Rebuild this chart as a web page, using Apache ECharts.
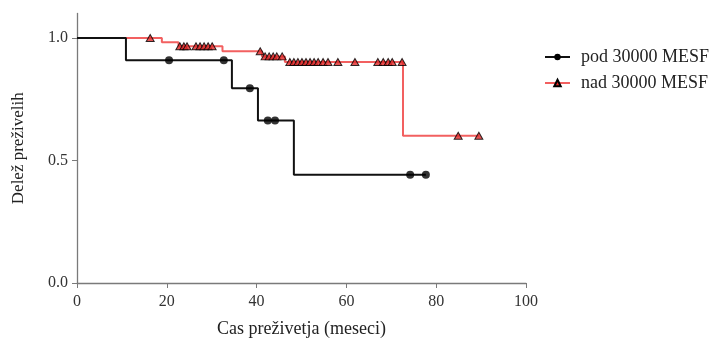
<!DOCTYPE html>
<html><head><meta charset="utf-8">
<script src="https://cdn.jsdelivr.net/npm/echarts@6/dist/echarts.min.js"></script>
<style>html,body{margin:0;padding:0;background:#fff}#c{width:718px;height:338px}</style>
</head><body><div id="c"></div>
<script>
// Kaplan-Meier step data (time in months, survival proportion)
const podTimes = [0, 10.9, 34.5, 40.3, 48.3, 77.7];
const podSurv  = [1.0, 0.909, 0.795, 0.663, 0.442, 0.442];
const podCensor = [20.5, 32.7, 38.5, 42.5, 44.1, 74.2, 77.7];

const nadTimes = [0, 18.9, 22.6, 32.4, 41.2, 46.3, 72.6, 89.5];
const nadSurv  = [1.0, 0.983, 0.966, 0.946, 0.925, 0.902, 0.601, 0.601];
const nadCensor = [16.3, 22.9, 23.8, 24.5, 26.5, 27.4, 28.3, 29.2, 30.1,
  40.8, 41.9, 42.8, 43.7, 44.5, 45.7, 47.4, 48.3, 49.2, 50.1, 51.0, 51.9,
  52.8, 53.7, 54.8, 55.9, 58.1, 61.9, 67.0, 68.2, 69.3, 70.2, 72.4, 84.9, 89.5];

const xTicks = [0, 20, 40, 60, 80, 100];
const yTicks = [0, 0.5, 1.0];
const seriesNames = ['pod 30000 MESF', 'nad 30000 MESF'];

function stepAt(times, surv, t) {
  let v = surv[0];
  for (let i = 0; i < times.length; i++) { if (times[i] <= t) v = surv[i]; }
  return v;
}
const pair = (xs, ys) => xs.map((x, i) => [x, ys[i]]);
const cens = (c, times, surv) => c.map(t => [t, stepAt(times, surv, t)]);

const font = 'Liberation Serif';
const axisCol = '#7a7a7a';
const chart = echarts.init(document.getElementById('c'));
chart.setOption({
  animation: false,
  grid: { left: 77, right: 192, top: 13.5, bottom: 55, containLabel: false, outerBoundsMode: 'none' },
  xAxis: {
    type: 'value', min: 0, max: 100, interval: 20,
    axisLine: { lineStyle: { color: axisCol, width: 1.3 } },
    axisTick: { show: true, length: 5, lineStyle: { color: axisCol } },
    splitLine: { show: false },
    axisLabel: { fontFamily: font, fontSize: 16, color: '#333', margin: 11 },
    name: 'Cas preživetja (meseci)', nameLocation: 'middle', nameGap: 37,
    nameTextStyle: { fontFamily: font, fontSize: 18, color: '#222' }
  },
  yAxis: {
    type: 'value', min: 0, max: 1.1,
    axisLine: { show: true, lineStyle: { color: axisCol, width: 1.3 } },
    axisTick: { show: true, length: 5, lineStyle: { color: axisCol }, customValues: yTicks },
    splitLine: { show: false },
    axisLabel: { fontFamily: font, fontSize: 16, color: '#333', margin: 9,
      customValues: yTicks, formatter: v => v.toFixed(1) },
    name: 'Delež preživelih', nameLocation: 'middle', nameGap: 50,
    nameTextStyle: { fontFamily: font, fontSize: 17, color: '#222' }
  },
  legend: {
    orient: 'vertical', left: 539, top: 43, itemGap: 8, itemWidth: 25, itemHeight: 8,
    textStyle: { fontFamily: font, fontSize: 18, color: '#222', padding: [0, 0, 0, 6] },
    data: seriesNames
  },
  series: [
    { name: seriesNames[1], type: 'line', step: 'end', data: pair(nadTimes, nadSurv),
      symbol: 'triangle', symbolSize: 8, showSymbol: false,
      lineStyle: { color: '#f26060', width: 2 },
      itemStyle: { color: '#e02828', borderColor: '#000', borderWidth: 1 }, z: 2 },
    { name: seriesNames[1], type: 'scatter', data: cens(nadCensor, nadTimes, nadSurv),
      symbol: 'triangle', symbolSize: [8, 7],
      itemStyle: { color: '#e02828', borderColor: '#000', borderWidth: 1 }, z: 3 },
    { name: seriesNames[0], type: 'line', step: 'end', data: pair(podTimes, podSurv),
      symbol: 'circle', symbolSize: 7, showSymbol: false,
      lineStyle: { color: '#111', width: 2 },
      itemStyle: { color: '#000' }, z: 4 },
    { name: seriesNames[0], type: 'scatter', data: cens(podCensor, podTimes, podSurv),
      symbol: 'circle', symbolSize: 8, itemStyle: { color: '#000' }, z: 5 }
  ]
});
</script></body></html>
